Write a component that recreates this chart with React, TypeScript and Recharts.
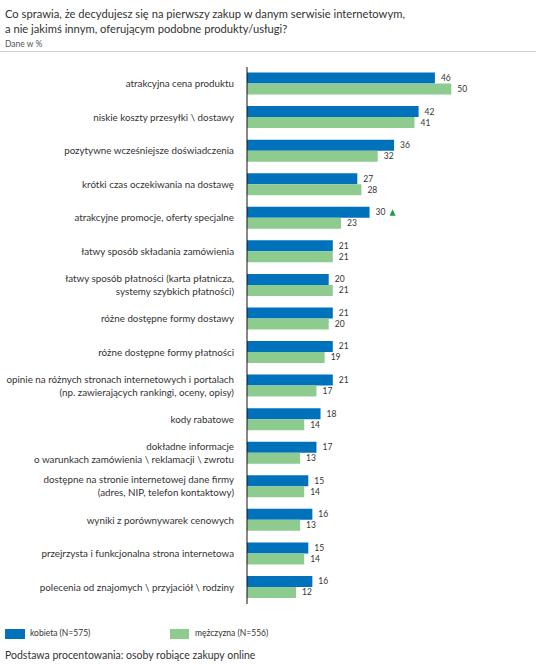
import * as React from "react"
import { BarChart, Bar, XAxis, YAxis, LabelList } from "recharts"

const kategorie = [
  "atrakcyjna cena produktu",
  "niskie koszty przesyłki \\ dostawy",
  "pozytywne wcześniejsze doświadczenia",
  "krótki czas oczekiwania na dostawę",
  "atrakcyjne promocje, oferty specjalne",
  "łatwy sposób składania zamówienia",
  "łatwy sposób płatności (karta płatnicza,\nsystemy szybkich płatności)",
  "różne dostępne formy dostawy",
  "różne dostępne formy płatności",
  "opinie na różnych stronach internetowych i portalach\n(np. zawierających rankingi, oceny, opisy)",
  "kody rabatowe",
  "dokładne informacje\no warunkach zamówienia \\ reklamacji \\ zwrotu",
  "dostępne na stronie internetowej dane firmy\n(adres, NIP, telefon kontaktowy)",
  "wyniki z porównywarek cenowych",
  "przejrzysta i funkcjonalna strona internetowa",
  "polecenia od znajomych \\ przyjaciół \\ rodziny",
]

const kobieta = [46, 42, 36, 27, 30, 21, 20, 21, 21, 21, 18, 17, 15, 16, 15, 16]
const mezczyzna = [50, 41, 32, 28, 23, 21, 21, 20, 19, 17, 14, 13, 14, 13, 14, 12]
// istotnie wyższy wynik kobiet
const istotne = [false, false, false, false, true, false, false, false, false, false, false, false, false, false, false, false]

const BLUE = "#0072bc"
const GREEN = "#8dcb8e"
const FONT = "Lato, 'Open Sans', sans-serif"

const data = kategorie.map((name, i) => ({
  name,
  kobieta: kobieta[i],
  mezczyzna: mezczyzna[i],
  istotne: istotne[i],
}))

function CategoryTick({ x, y, payload }: any) {
  const lines = String(payload.value).split("\n")
  const lh = 13
  const start = y - ((lines.length - 1) * lh) / 2
  return (
    <text x={x - 5} y={start} textAnchor="end" fontSize={9.8} fill="#333" fontFamily={FONT}>
      {lines.map((l, i) => (
        <tspan key={i} x={x - 5} y={start + i * lh} dy="0.35em">
          {l}
        </tspan>
      ))}
    </text>
  )
}

function BlueLabel(props: any) {
  const { x, y, width, height, value, index } = props
  const lx = x + width + 6
  const cy = y + height / 2
  return (
    <g>
      <text x={lx} y={cy} dy="0.35em" fontSize={8.5} fill="#333" fontFamily={FONT}>
        {value}
      </text>
      {data[index]?.istotne && (
        <path
          d={`M ${lx + 14} ${cy + 3.5} L ${lx + 17} ${cy - 3} L ${lx + 20} ${cy + 3.5} Z`}
          fill="#1e9b4b"
        />
      )}
    </g>
  )
}

function GreenLabel(props: any) {
  const { x, y, width, height, value } = props
  return (
    <text x={x + width + 6} y={y + height / 2} dy="0.35em" fontSize={8.5} fill="#333" fontFamily={FONT}>
      {value}
    </text>
  )
}

export default function App() {
  return (
    <div
      style={{
        position: "absolute",
        left: 0,
        top: 0,
        width: 538,
        height: 666,
        background: "#fff",
        fontFamily: FONT,
        color: "#333",
      }}
    >
      <div style={{ position: "absolute", left: 5, top: 6, fontSize: 11.2, lineHeight: "15px", color: "#333" }}>
        Co sprawia, że decydujesz się na pierwszy zakup w danym serwisie internetowym,
        <br />a nie jakimś innym, oferującym podobne produkty/usługi?
      </div>
      <div style={{ position: "absolute", left: 5, top: 39, fontSize: 8.5, color: "#555" }}>Dane w %</div>
      <div style={{ position: "absolute", left: 0, top: 51, width: 536, height: 1, background: "#cfcfcf" }} />

      <div style={{ position: "absolute", left: 0, top: 60 }}>
        <BarChart
          width={538}
          height={550}
          data={data}
          layout="vertical"
          margin={{ top: 7, right: 5, bottom: 6, left: 0 }}
          barGap={0}
          barCategoryGap={5.5}
        >
          <XAxis type="number" domain={[0, 70]} hide />
          <YAxis
            type="category"
            dataKey="name"
            width={247}
            tickLine={false}
            axisLine={{ stroke: "#111", strokeWidth: 1 }}
            tick={<CategoryTick />}
            interval={0}
          />
          <Bar dataKey="kobieta" fill={BLUE} isAnimationActive={false}>
            <LabelList dataKey="kobieta" content={<BlueLabel />} />
          </Bar>
          <Bar dataKey="mezczyzna" fill={GREEN} isAnimationActive={false}>
            <LabelList dataKey="mezczyzna" content={<GreenLabel />} />
          </Bar>
        </BarChart>
      </div>

      <div style={{ position: "absolute", left: 5, top: 629, width: 20, height: 10, background: BLUE }} />
      <div style={{ position: "absolute", left: 30, top: 628, fontSize: 8.5, color: "#333" }}>kobieta (N=575)</div>
      <div style={{ position: "absolute", left: 170, top: 629, width: 19, height: 10, background: GREEN }} />
      <div style={{ position: "absolute", left: 195, top: 628, fontSize: 8.5, color: "#333" }}>mężczyzna (N=556)</div>

      <div style={{ position: "absolute", left: 5, top: 649, fontSize: 10.5, color: "#333" }}>
        Podstawa procentowania: osoby robiące zakupy online
      </div>
    </div>
  )
}
